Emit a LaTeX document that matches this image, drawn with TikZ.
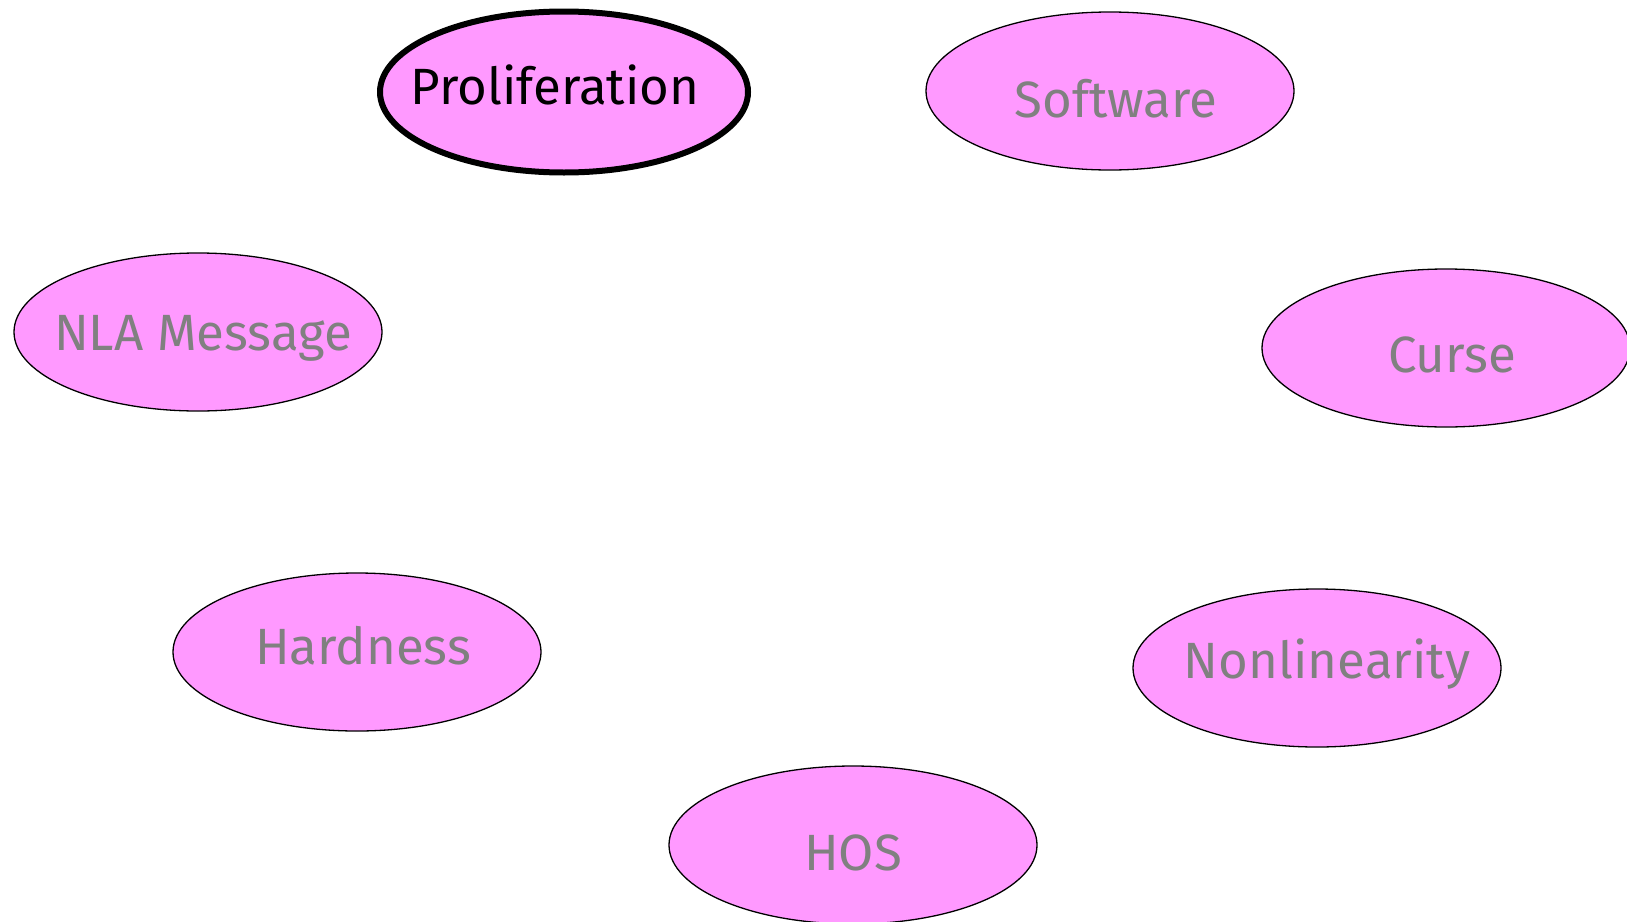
\documentclass[tikz,border=0pt]{standalone}
\usepackage{fontspec}
\setmainfont{Fira Sans}
\usetikzlibrary{shapes.geometric}
\definecolor{pinkfill}{RGB}{255,153,255}
\definecolor{txtgray}{RGB}{128,128,128}
\tikzset{
  topic/.style={ellipse, draw=black, line width=1.3pt, fill=pinkfill,
    minimum width=368pt, minimum height=158pt, inner sep=0pt},
  current/.style={topic, line width=6pt, minimum height=161pt},
  ttext/.style={text=txtgray, font=\fontsize{51}{58}\selectfont, inner sep=0pt},
  ctext/.style={ttext, text=black}
}
\begin{document}
\begin{tikzpicture}[x=1pt,y=-1pt]
\useasboundingbox (0,0) rectangle (1627,921);
\node[current, label={[ctext,xshift=-9pt,yshift=7pt]center:Proliferation}] (prolif) at (564,92) {};
\node[topic, label={[ttext,xshift=6pt,yshift=-8pt]center:Software}] (soft) at (1110,91) {};
\node[topic, label={[ttext,xshift=5pt,yshift=-6pt]center:NLA Message}] (nla) at (198,332) {};
\node[topic, label={[ttext,xshift=6pt,yshift=-7pt]center:Curse}] (curse) at (1446,348) {};
\node[topic, label={[ttext,xshift=6pt,yshift=6pt]center:Hardness}] (hard) at (357,652) {};
\node[topic, label={[ttext,xshift=10pt,yshift=4pt]center:Nonlinearity}] (nonlin) at (1317,668) {};
\node[topic, label={[ttext,xshift=0pt,yshift=-8pt]center:HOS}] (hos) at (853,845) {};
\end{tikzpicture}
\end{document}
